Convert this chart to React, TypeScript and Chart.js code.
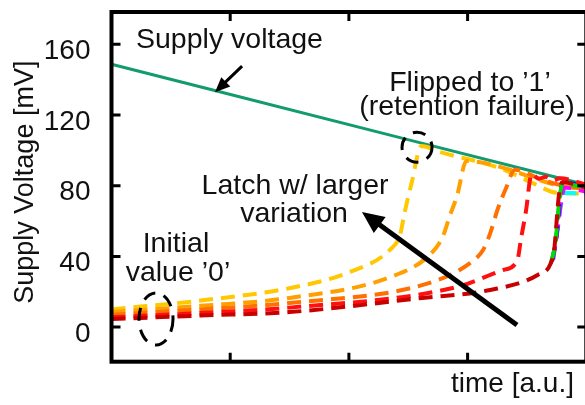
import React, { useEffect, useRef } from "react";
import { Chart, registerables } from "chart.js";

Chart.register(...registerables);

// ---- data (time in a.u., voltage in mV) ----
const TIME_TICKS = [1, 2, 3];
const VOLT_TICKS = [0, 40, 80, 120, 160];

const SUPPLY_T = [0, 0.87, 2.43, 3.78, 4];
const SUPPLY_V = [148.7, 133.9, 107.2, 84.2, 80.6];

const YELLOW_T = [0, 0.75, 1.5, 2.0, 2.35, 2.43, 2.47, 2.53, 2.61, 2.77, 3.27, 3.55, 3.75, 4];
const YELLOW_V = [10, 15, 22, 31, 44, 52, 65, 82, 102.4, 99, 90, 81.5, 76, 75.5];

const AMBER_T = [0, 0.75, 1.5, 2.35, 2.68, 2.79, 2.85, 2.91, 2.99, 3.36, 3.55, 3.75, 4];
const AMBER_V = [8.5, 12, 16.5, 28.3, 40.8, 51, 63, 74, 94, 89, 84.4, 80.4, 78];

const ORANGE_T = [0, 0.75, 1.5, 2.68, 3.02, 3.13, 3.19, 3.25, 3.32, 3.4, 3.63, 3.78, 4];
const ORANGE_V = [7, 10, 13.6, 25, 36.2, 43.6, 53, 66, 78, 89, 83.2, 80.4, 78];

const RED_T = [0, 0.75, 1.5, 2.91, 3.3, 3.42, 3.45, 3.49, 3.54, 3.6, 3.66, 3.72, 3.78, 4];
const RED_V = [5.5, 8, 11, 22.7, 32.3, 38, 50, 65, 86.6, 84, 85, 83, 84.2, 80.5];

const DARKRED_T = [0, 0.75, 1.5, 2.62, 3.19, 3.59, 3.7, 3.73, 3.75, 3.77, 3.8, 4];
const DARKRED_V = [4.5, 6.5, 8.5, 16.5, 21, 29.5, 36, 44, 60, 75, 82, 79];

const LIME_T = [3.7, 3.74, 3.77, 3.8, 4];
const LIME_V = [36, 48, 70, 81, 79];
const BLUE_T = [3.71, 3.75, 3.78, 3.8, 4];
const BLUE_V = [37, 52, 74, 82, 79.5];
const MAGENTA_T = [3.72, 3.76, 3.79, 3.82, 4];
const MAGENTA_V = [38, 56, 72, 79, 76.5];
const CYAN_T = [3.72, 3.76, 3.79, 3.82, 4];
const CYAN_V = [38, 57, 70, 76, 75.5];

const FONT = '"Liberation Sans", Arial, Helvetica, sans-serif';
const TICK_SIZE = 28;
const NOTE_SIZE = 28.5;
const YTITLE_SIZE = 27;

const pts = (t: number[], v: number[]) => t.map((x, i) => ({ x, y: v[i] }));

const dashed = (label: string, t: number[], v: number[], color: string, order: number) => ({
  label,
  data: pts(t, v),
  borderColor: color,
  borderWidth: 4,
  borderDash: [14, 8],
  pointRadius: 0,
  fill: false,
  cubicInterpolationMode: "monotone" as const,
  order,
});

function drawArrow(ctx: CanvasRenderingContext2D, x1: number, y1: number, x2: number, y2: number, lw: number, hl: number, hw: number) {
  const a = Math.atan2(y2 - y1, x2 - x1);
  const bx = x2 - hl * Math.cos(a);
  const by = y2 - hl * Math.sin(a);
  ctx.save();
  ctx.strokeStyle = "#000";
  ctx.fillStyle = "#000";
  ctx.lineWidth = lw;
  ctx.setLineDash([]);
  ctx.beginPath();
  ctx.moveTo(x1, y1);
  ctx.lineTo(bx + hl * 0.3 * Math.cos(a), by + hl * 0.3 * Math.sin(a));
  ctx.stroke();
  ctx.beginPath();
  ctx.moveTo(x2, y2);
  ctx.lineTo(bx + (hw / 2) * Math.sin(a), by - (hw / 2) * Math.cos(a));
  ctx.lineTo(bx - (hw / 2) * Math.sin(a), by + (hw / 2) * Math.cos(a));
  ctx.closePath();
  ctx.fill();
  ctx.restore();
}

const overlay = {
  id: "overlay",
  afterDatasetsDraw(chart: any) {
    const { ctx, chartArea } = chart;
    const xs = chart.scales.x;
    const ys = chart.scales.y;
    const { left, right, top, bottom } = chartArea;
    ctx.save();
    // frame
    ctx.strokeStyle = "#000";
    ctx.lineWidth = 4;
    ctx.setLineDash([]);
    ctx.strokeRect(left, top, right - left, bottom - top);
    // inward ticks
    ctx.lineWidth = 3;
    ctx.beginPath();
    VOLT_TICKS.forEach((v) => {
      const y = ys.getPixelForValue(v);
      ctx.moveTo(left, y);
      ctx.lineTo(left + 9, y);
      ctx.moveTo(right, y);
      ctx.lineTo(right - 9, y);
    });
    TIME_TICKS.forEach((t) => {
      const x = xs.getPixelForValue(t);
      ctx.moveTo(x, top);
      ctx.lineTo(x, top + 9);
      ctx.moveTo(x, bottom);
      ctx.lineTo(x, bottom - 9);
    });
    ctx.stroke();

    // texts
    ctx.fillStyle = "#111";
    ctx.font = `${NOTE_SIZE}px ${FONT}`;
    ctx.textAlign = "center";
    ctx.textBaseline = "alphabetic";
    const txt = (s: string, t: number, v: number) => ctx.fillText(s, xs.getPixelForValue(t), ys.getPixelForValue(v));
    txt("Supply voltage", 0.994, 157.9);
    txt("Flipped to \u20191\u2019", 3.02, 133.6);
    txt("(retention failure)", 2.995, 119.9);
    txt("Latch w/ larger", 1.546, 75.3);
    txt("variation", 1.538, 59.5);
    txt("Initial", 0.543, 42.5);
    txt("value \u20190\u2019", 0.56, 26.1);
    ctx.font = `${TICK_SIZE}px ${FONT}`;
    txt("time [a.u.]", 3.378, -36.7);

    // y title
    ctx.save();
    ctx.font = `${YTITLE_SIZE}px ${FONT}`;
    ctx.translate(33, ys.getPixelForValue(82));
    ctx.rotate(-Math.PI / 2);
    ctx.fillText("Supply Voltage [mV]", 0, 0);
    ctx.restore();

    // arrows
    drawArrow(ctx, xs.getPixelForValue(1.1), ys.getPixelForValue(147.7), xs.getPixelForValue(0.872), ys.getPixelForValue(132.9), 3, 15, 13);
    drawArrow(ctx, xs.getPixelForValue(3.416), ys.getPixelForValue(1.19), xs.getPixelForValue(2.11), ys.getPixelForValue(65.1), 5, 22, 20);

    // dashed circles
    ctx.strokeStyle = "#000";
    ctx.lineWidth = 3;
    ctx.setLineDash([13, 9]);
    ctx.beginPath();
    ctx.ellipse(xs.getPixelForValue(2.574), ys.getPixelForValue(101.8), 15, 15, 0, 0, Math.PI * 2);
    ctx.stroke();
    ctx.beginPath();
    ctx.ellipse(xs.getPixelForValue(0.375), ys.getPixelForValue(4.6), 17, 26, 0, 0, Math.PI * 2);
    ctx.stroke();
    ctx.restore();
  },
};

export default function App() {
  const ref = useRef<HTMLCanvasElement | null>(null);
  useEffect(() => {
    if (!ref.current) return;
    const chart = new Chart(ref.current, {
      type: "line",
      data: {
        datasets: [
          {
            label: "Supply voltage",
            data: pts(SUPPLY_T, SUPPLY_V),
            borderColor: "#139b6e",
            borderWidth: 3,
            pointRadius: 0,
            fill: false,
            order: 20,
          } as any,
          dashed("y", YELLOW_T, YELLOW_V, "#ffc800", 12),
          dashed("a", AMBER_T, AMBER_V, "#ffa000", 11),
          dashed("o", ORANGE_T, ORANGE_V, "#ff7000", 10),
          dashed("c", CYAN_T, CYAN_V, "#00ffff", 9),
          dashed("m", MAGENTA_T, MAGENTA_V, "#ff00ff", 8),
          dashed("b", BLUE_T, BLUE_V, "#1010ff", 7),
          dashed("l", LIME_T, LIME_V, "#00e000", 6),
          dashed("r", RED_T, RED_V, "#ff1010", 5),
          dashed("d", DARKRED_T, DARKRED_V, "#c80000", 4),
        ],
      },
      options: {
        animation: false,
        responsive: false,
        devicePixelRatio: 1,
        layout: { padding: { top: 12, right: 13.7, left: 0, bottom: 0 } },
        plugins: { legend: { display: false }, tooltip: { enabled: false } },
        scales: {
          x: {
            type: "linear",
            min: 0,
            max: 4,
            ticks: { display: false },
            grid: { display: false, drawTicks: false },
            border: { display: false },
            afterBuildTicks: (s: any) => {
              s.ticks = TIME_TICKS.map((v) => ({ value: v }));
            },
            afterFit: (s: any) => {
              s.height = 43.3;
              s.paddingLeft = 0;
              s.paddingRight = 0;
            },
          },
          y: {
            type: "linear",
            min: -19.6,
            max: 178.3,
            ticks: {
              font: { family: FONT, size: TICK_SIZE },
              color: "#111",
              padding: 21,
              labelOffset: 7,
              autoSkip: false,
              callback: (v: any) => String(v),
            },
            grid: { display: false, drawTicks: false },
            border: { display: false },
            afterBuildTicks: (s: any) => {
              s.ticks = VOLT_TICKS.map((v) => ({ value: v }));
            },
            afterFit: (s: any) => {
              s.width = 111.5;
              s.paddingTop = 0;
              s.paddingBottom = 0;
            },
          },
        },
      } as any,
      plugins: [overlay],
    });
    return () => chart.destroy();
  }, []);
  return (
    <div style={{ position: "fixed", left: 0, top: 0, width: 585, height: 405, overflow: "hidden", background: "#fff" }}>
      <canvas ref={ref} width={600} height={405} style={{ width: 600, height: 405, display: "block" }} />
    </div>
  );
}
